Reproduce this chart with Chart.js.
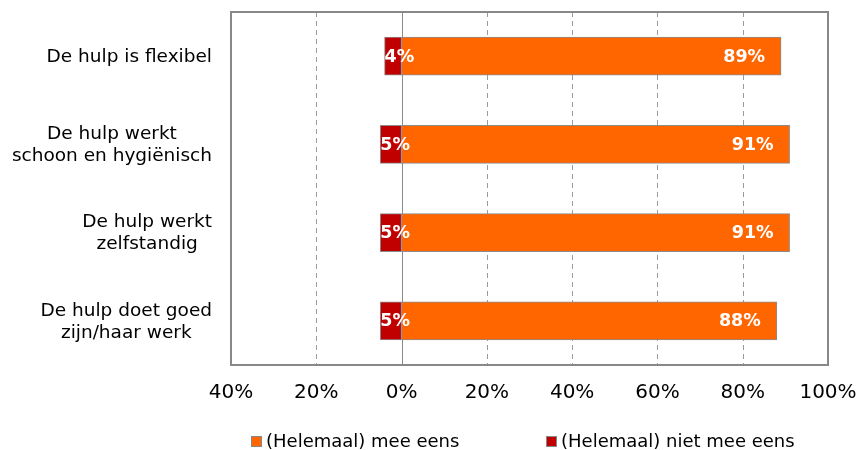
<!DOCTYPE html>
<html>
<head>
<meta charset="utf-8">
<script src="https://cdn.jsdelivr.net/npm/chart.js@4/dist/chart.umd.min.js"></script>
<style>
  body { margin: 0; background: #fff; }
  canvas { display: block; }
</style>
</head>
<body>
<canvas id="myChart" width="856" height="450"></canvas>
<script>
// statements (multi-line labels are split per line)
var categories = [
    ['De hulp is flexibel'],
    ['De hulp werkt', 'schoon en hygiënisch'],
    ['De hulp werkt', 'zelfstandig'],
    ['De hulp doet goed', 'zijn/haar werk']
];
var seriesNames = ['(Helemaal) mee eens', '(Helemaal) niet mee eens'];
var agree = [89, 91, 91, 88];
var disagree = [4, 5, 5, 5];
var tickValues = [-40, -20, 0, 20, 40, 60, 80, 100];

var FONT = '"DejaVu Sans", Verdana, sans-serif';
var ORANGE = '#FF6600';
var DARKRED = '#C00000';

// frame, grid, value labels, category labels and legend
var decorations = {
    id: 'decorations',
    beforeDatasetsDraw: function(chart) {
        var ctx = chart.ctx, a = chart.chartArea, x = chart.scales.x;
        ctx.save();
        ctx.lineWidth = 1;
        tickValues.forEach(function(v) {
            if (v === tickValues[0] || v === tickValues[tickValues.length - 1]) return;
            var px = Math.round(x.getPixelForValue(v)) + 0.5;
            ctx.strokeStyle = v === 0 ? '#8a8a8a' : '#9a9a9a';
            ctx.setLineDash(v === 0 ? [] : [5, 4]);
            ctx.beginPath();
            ctx.moveTo(px, a.top);
            ctx.lineTo(px, a.bottom);
            ctx.stroke();
        });
        ctx.restore();
    },
    afterDatasetsDraw: function(chart) {
        var ctx = chart.ctx;
        ctx.save();
        ctx.font = 'bold 17.5px ' + FONT;
        ctx.fillStyle = '#fff';
        ctx.textBaseline = 'middle';
        chart.data.datasets.forEach(function(ds, di) {
            chart.getDatasetMeta(di).data.forEach(function(bar, i) {
                var txt = Math.abs(ds.data[i]) + '%';
                if (ds.data[i] < 0) {
                    ctx.textAlign = 'left';
                    ctx.fillText(txt, bar.x, bar.y + 1);
                } else {
                    ctx.textAlign = 'right';
                    ctx.fillText(txt, bar.x - 16, bar.y + 1);
                }
            });
        });
        ctx.restore();
    },
    afterDraw: function(chart) {
        var ctx = chart.ctx, a = chart.chartArea, y = chart.scales.y;
        ctx.save();

        // plot frame
        ctx.strokeStyle = '#888';
        ctx.lineWidth = 2;
        ctx.strokeRect(a.left, a.top, a.right - a.left, a.bottom - a.top);

        // category labels: block right aligned, lines centred inside it
        ctx.font = '18.5px ' + FONT;
        ctx.fillStyle = '#000';
        ctx.textAlign = 'center';
        ctx.textBaseline = 'middle';
        var lineH = 22;
        categories.forEach(function(lines, i) {
            var w = Math.max.apply(null, lines.map(function(l) { return ctx.measureText(l).width; }));
            var cx = a.left - 19 - w / 2;
            var cy = y.getPixelForValue(i) - (lines.length - 1) * lineH / 2;
            lines.forEach(function(l, k) {
                ctx.fillText(l, cx, cy + k * lineH + 1);
            });
        });

        // legend
        var xs = [251, 546];
        var ly = 441;
        ctx.font = '18px ' + FONT;
        ctx.textAlign = 'left';
        chart.data.datasets.forEach(function(ds, di) {
            ctx.fillStyle = ds.backgroundColor;
            ctx.fillRect(xs[di], ly - 5, 10, 10);
            ctx.strokeStyle = '#888';
            ctx.lineWidth = 1;
            ctx.strokeRect(xs[di] + 0.5, ly - 4.5, 10, 10);
            ctx.fillStyle = '#000';
            ctx.fillText(ds.label, xs[di] + 15, ly + 1);
        });
        ctx.restore();
    }
};

var ctx = document.getElementById('myChart').getContext('2d');

var chart = new Chart(ctx, {
    type: 'bar',
    data: {
        labels: categories,
        datasets: [{
            label: seriesNames[0],
            data: agree,
            backgroundColor: ORANGE,
            borderColor: '#8c8c8c',
            borderWidth: 1,
            borderSkipped: false,
            barThickness: 38
        }, {
            label: seriesNames[1],
            data: disagree.map(function(v) { return -v; }),
            backgroundColor: DARKRED,
            borderColor: '#8c8c8c',
            borderWidth: 1,
            borderSkipped: false,
            barThickness: 38
        }]
    },
    options: {
        indexAxis: 'y',
        responsive: false,
        animation: false,
        layout: { padding: { top: 12, right: 28, left: 0, bottom: 0 } },
        plugins: {
            legend: { display: false },
            tooltip: { enabled: false }
        },
        scales: {
            x: {
                stacked: true,
                min: -40,
                max: 100,
                afterBuildTicks: function(s) {
                    s.ticks = tickValues.map(function(v) { return { value: v }; });
                },
                afterFit: function(s) {
                    s.height = 85;
                    s.paddingLeft = 0;
                    s.paddingRight = 0;
                },
                grid: { display: false, drawTicks: false },
                border: { display: false },
                ticks: {
                    padding: 16,
                    color: '#000',
                    font: { family: FONT, size: 20 },
                    maxRotation: 0,
                    callback: function(v) { return Math.abs(v) + '%'; }
                }
            },
            y: {
                stacked: true,
                afterFit: function(s) { s.width = 231; },
                grid: { display: false },
                border: { display: false },
                ticks: { display: false }
            }
        }
    },
    plugins: [decorations]
});
</script>
</body>
</html>
